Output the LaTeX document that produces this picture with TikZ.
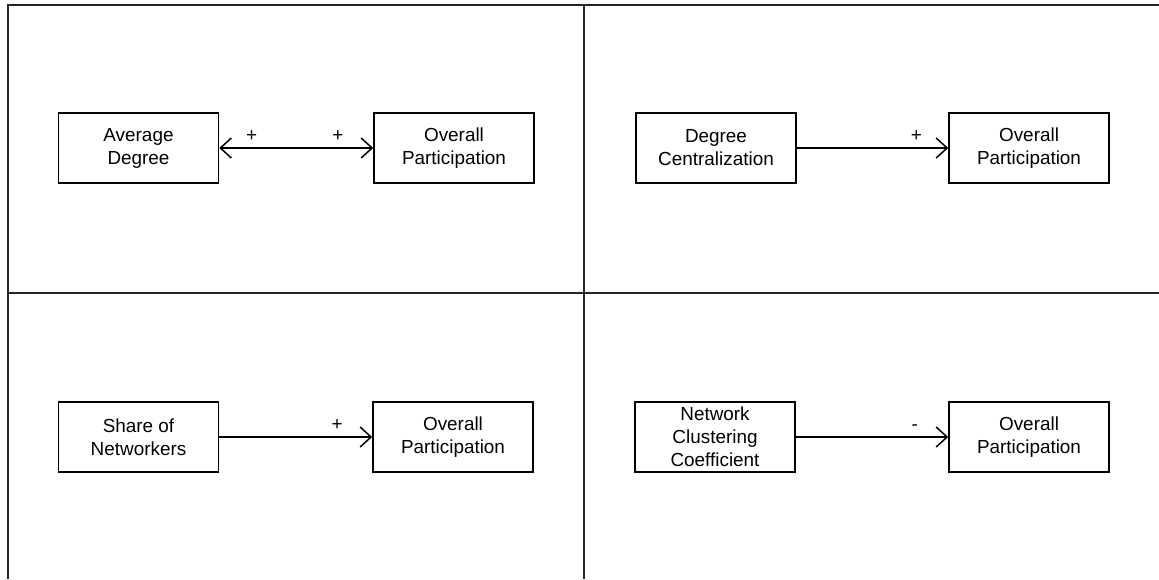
\documentclass[tikz,border=0pt]{standalone}
\usepackage{fontspec}
\setmainfont{Liberation Sans}
\usetikzlibrary{arrows.meta}
\begin{document}
\begin{tikzpicture}[x=0.5pt,y=-0.5pt,
  frameline/.style={line width=1pt,draw=black!85},
  var/.style={draw,line width=0.75pt,minimum width=80pt,minimum height=35pt,
    inner sep=2pt,align=center,font=\fontsize{9.45}{11.5}\selectfont},
  barb/.tip={Straight Barb[length=5.5pt,width=10pt,line width=0.75pt]},
  link/.style={line width=0.75pt,-barb},
  sign/.style={font=\fontsize{9.45}{11.5}\selectfont,inner sep=0pt}]
\useasboundingbox (0,0) rectangle (1159,579);
% quadrant frame
\coordinate (tl) at (8,5);
\coordinate (tr) at (1159,5);
\coordinate (bl) at (8,579);
\coordinate (mt) at (584,5);
\coordinate (mb) at (584,579);
\coordinate (ml) at (8,293);
\coordinate (mr) at (1159,293);
\draw[frameline] (bl) -- (tl) -- (tr);
\draw[frameline] (mt) -- (mb);
\draw[frameline] (ml) -- (mr);
% variables
\node[var] (avg) at (138.5,148) {Average\\Degree};
\node[var] (op1) at (454,148) {Overall\\Participation};
\node[var] (cen) at (716,148) {Degree\\Centralization};
\node[var] (op2) at (1029,148) {Overall\\Participation};
\node[var] (share) at (138.5,437) {Share of\\Networkers};
\node[var] (op3) at (453,437) {Overall\\Participation};
\node[var] (clus) at (715,437) {Network\\Clustering\\Coefficient};
\node[var] (op4) at (1029,437) {Overall\\Participation};
% relations
\draw[line width=0.75pt,barb-barb] (avg) --
  node[sign,pos=0.21,yshift=6pt] (s1) {+}
  node[sign,pos=0.77,yshift=6pt] (s2) {+} (op1);
\draw[link] (cen) -- node[sign,pos=0.79,yshift=6pt] (s3) {+} (op2);
\draw[link] (share) -- node[sign,pos=0.77,yshift=6pt] (s4) {+} (op3);
\draw[link] (clus) -- node[sign,pos=0.78,yshift=4.5pt] (s5) {-} (op4);
\end{tikzpicture}
\end{document}
